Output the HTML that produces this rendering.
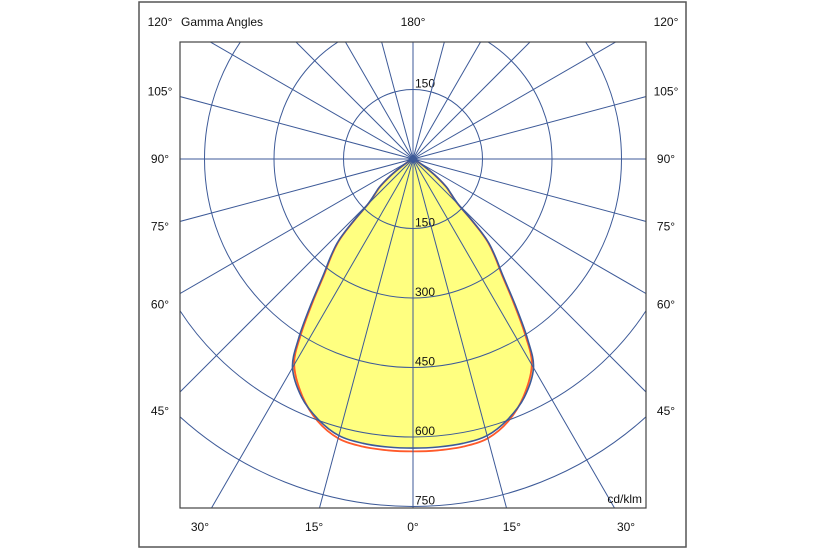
<!DOCTYPE html>
<html><head><meta charset="utf-8"><style>
html,body{margin:0;background:#fff;width:825px;height:550px;overflow:hidden;}
svg{display:block;font-family:"Liberation Sans",Arial,sans-serif;}
</style></head><body>
<svg id="chart" width="825" height="550" viewBox="0 0 825 550">
<rect x="139" y="2" width="547" height="545" fill="#fff" stroke="#555" stroke-width="1.5"/>
<defs><clipPath id="clip"><rect x="180" y="42" width="466" height="466"/></clipPath></defs>
<g id="plot" clip-path="url(#clip)"></g>
<g id="labels"></g>
<rect x="180" y="42" width="466" height="466" fill="none" stroke="#444" stroke-width="1.2"/>
</svg>
<script>
const gammaAngles=[0,5,10,15,20,25,30,32.5,35,37.5,40,42,43,44,45,47.5,50,52.5,55,60,65,70,80,90];
const seriesC0=[624,624,623,618,598,568,520,460,385,320,278,245,218,175,138,112,95,70,45,15,5,0,0,0];
const seriesC90=[631,631,630,624,602,565,513,452,378,316,275,242,215,172,135,110,93,68,44,15,5,0,0,0];
const ringValues=[150,300,450,600,750];
const ringLabels=["150","300","450","600","750"];
const sideAngleLabels=["45°","60°","75°","90°","105°","120°"];
const sideAngles=[45,60,75,90,105,120];
const bottomAngleLabels=["0°","15°","30°"];
const bottomAngles=[0,15,30];

const cx=413,cy=159,scale=69.5/150;
const NS="http://www.w3.org/2000/svg";
const plot=document.getElementById('plot'),labels=document.getElementById('labels');
function mk(tag,attrs,parent){const e=document.createElementNS(NS,tag);for(const k in attrs)e.setAttribute(k,attrs[k]);parent.appendChild(e);return e;}
function pt(g,v,side){const a=g*Math.PI/180,r=v*scale;return [cx+side*r*Math.sin(a),cy+r*Math.cos(a)];}
const lc="#3d5a98";

function curvePath(vals){
  const ps=[];
  for(let i=gammaAngles.length-1;i>=0;i--)ps.push(pt(gammaAngles[i],vals[i],-1));
  for(let i=1;i<gammaAngles.length;i++)ps.push(pt(gammaAngles[i],vals[i],1));
  let d="M"+ps[0][0].toFixed(1)+","+ps[0][1].toFixed(1);
  for(let i=0;i<ps.length-1;i++){
    const p0=ps[Math.max(i-1,0)],p1=ps[i],p2=ps[i+1],p3=ps[Math.min(i+2,ps.length-1)];
    const c1=[p1[0]+(p2[0]-p0[0])/6,p1[1]+(p2[1]-p0[1])/6];
    const c2=[p2[0]-(p3[0]-p1[0])/6,p2[1]-(p3[1]-p1[1])/6];
    d+="C"+c1[0].toFixed(1)+","+c1[1].toFixed(1)+" "+c2[0].toFixed(1)+","+c2[1].toFixed(1)+" "+p2[0].toFixed(1)+","+p2[1].toFixed(1);
  }
  return d+"Z";
}
const fill=mk('path',{d:curvePath(seriesC0),fill:"#ffff80",stroke:"none"},plot);


const red=mk('path',{d:curvePath(seriesC90),fill:"none",stroke:"#ff5a2a","stroke-width":1.8},plot);


const blue=mk('path',{d:curvePath(seriesC0),fill:"none",stroke:lc,"stroke-width":1.6},plot);



ringValues.forEach((v,i)=>{
  const c=mk('circle',{cx:cx,cy:cy,r:v*scale,fill:"none",stroke:lc,"stroke-width":1},plot);
  
  
  const t=mk('text',{x:cx+2,y:cy+v*scale-2,"font-size":12,fill:"#111"},plot);
  t.textContent=ringLabels[i];
  
  
});
const t150=mk('text',{x:cx+2,y:cy-ringValues[0]*scale-2,"font-size":12,fill:"#111"},plot);
t150.textContent=ringLabels[0];



for(let g=0;g<360;g+=15){
  const a=g*Math.PI/180;
  const l=mk('line',{x1:cx,y1:cy,x2:cx+700*Math.sin(a),y2:cy+700*Math.cos(a),stroke:lc,"stroke-width":1},plot);
  
  
}
mk('circle',{cx:cx,cy:cy,r:3,fill:lc},plot);

function txt(x,y,s,anchor,name){const t=mk('text',{x:x,y:y,"font-size":12,fill:"#111","text-anchor":anchor},labels);t.textContent=s;
  
  }
sideAngles.forEach((g,i)=>{
  const dx=252;let y=cy+dx/Math.tan(g*Math.PI/180);
  if(Math.abs(g-90)<1e-6)y=cy;
  y=Math.max(y,22);
  txt(160,y+4,sideAngleLabels[i],"middle","left-angle-"+g);
  txt(666,y+4,sideAngleLabels[i],"middle","right-angle-"+g);
});
bottomAngles.forEach((g,i)=>{
  const dx=369*Math.tan(g*Math.PI/180);
  txt(cx-dx,531,bottomAngleLabels[i],"middle","bottom-left-angle-"+g);
  if(g>0)txt(cx+dx,531,bottomAngleLabels[i],"middle","bottom-right-angle-"+g);
});
txt(cx,26,"180°","middle","top-angle-180");
txt(181,26,"Gamma Angles","start","title-gamma-angles");
txt(642,503,"cd/klm","end","unit-label");
</script>
</body></html>
